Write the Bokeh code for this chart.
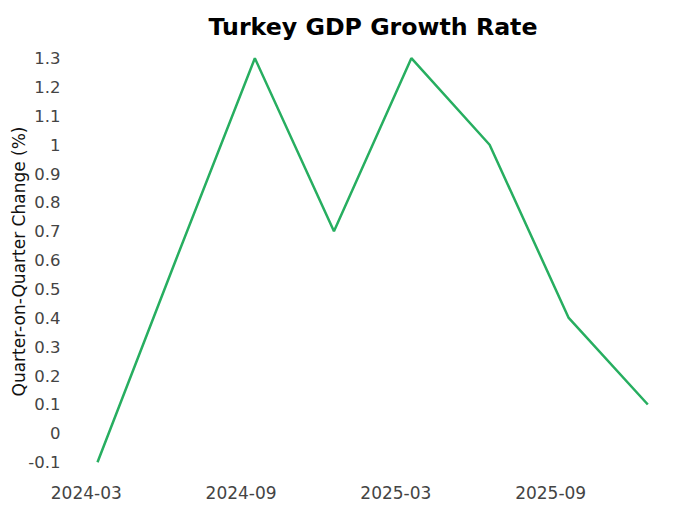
import pandas as pd
from bokeh.plotting import figure
from bokeh.models import Range1d, FixedTicker, DatetimeTickFormatter
from bokeh.embed import file_html
from bokeh.resources import INLINE

# ---- data ----
QUARTERS = ["2024-03-31", "2024-06-30", "2024-09-30", "2024-12-31",
            "2025-03-31", "2025-06-30", "2025-09-30", "2025-12-31"]
GROWTH = [-0.1, 0.6, 1.3, 0.7, 1.3, 1.0, 0.4, 0.1]
X_TICK_DATES = ["2024-03-18", "2024-09-14", "2025-03-13", "2025-09-09"]
Y_TICKS = [-0.1, 0, 0.1, 0.2, 0.3, 0.4, 0.5, 0.6, 0.7, 0.8, 0.9, 1, 1.1, 1.2, 1.3]
Y_TICK_LABELS = ["-0.1", "0", "0.1", "0.2", "0.3", "0.4", "0.5", "0.6", "0.7",
                 "0.8", "0.9", "1", "1.1", "1.2", "1.3"]
TITLE = "Turkey GDP Growth Rate"
Y_LABEL = "Quarter-on-Quarter Change (%)"

dates = pd.to_datetime(QUARTERS)
x_start = dates[0] - pd.Timedelta(days=31.4)
x_end = dates[-1] + pd.Timedelta(days=32.2)

p = figure(width=680, height=510, x_axis_type="datetime",
           x_range=Range1d(x_start, x_end), y_range=Range1d(-0.1565, 1.3475),
           output_backend="svg", toolbar_location=None,
           min_border_left=70, min_border_right=5, min_border_top=44,
           min_border_bottom=32)

p.line(dates, GROWTH, line_color="#27ae60", line_width=2.5)

p.title.text = TITLE
p.title.text_font = "DejaVu Sans"
p.title.text_font_style = "bold"
p.title.text_font_size = "23.7px"
p.title.text_color = "#000000"
p.title.align = "center"
p.title.offset = -3
p.title.standoff = 7

p.outline_line_color = None
p.xgrid.grid_line_color = None
p.ygrid.grid_line_color = None
p.background_fill_color = "white"
p.border_fill_color = "white"

for ax in (p.xaxis[0], p.yaxis[0]):
    ax.axis_line_color = None
    ax.major_tick_line_color = None
    ax.minor_tick_line_color = None
    ax.major_tick_out = 0
    ax.major_tick_in = 0
    ax.minor_tick_out = 0
    ax.minor_tick_in = 0
    ax.major_label_text_font = "DejaVu Sans"
    ax.major_label_text_color = "#444444"

xa = p.xaxis[0]
xa.ticker = FixedTicker(ticks=[pd.Timestamp(d).value // 10**6 for d in X_TICK_DATES])
xa.formatter = DatetimeTickFormatter(days="%Y-%m", months="%Y-%m", years="%Y-%m")
xa.major_label_text_font_size = "17px"
xa.major_label_standoff = 7

ya = p.yaxis[0]
ya.ticker = FixedTicker(ticks=Y_TICKS)
ya.major_label_overrides = {v: s for v, s in zip(Y_TICKS, Y_TICK_LABELS)}
ya.major_label_text_font_size = "16.5px"
ya.major_label_standoff = 10
ya.axis_label = Y_LABEL
ya.axis_label_text_font = "DejaVu Sans"
ya.axis_label_text_font_style = "normal"
ya.axis_label_text_font_size = "17px"
ya.axis_label_text_color = "#111111"
ya.axis_label_standoff = -4

open("out.html", "w").write(file_html(p, INLINE))
